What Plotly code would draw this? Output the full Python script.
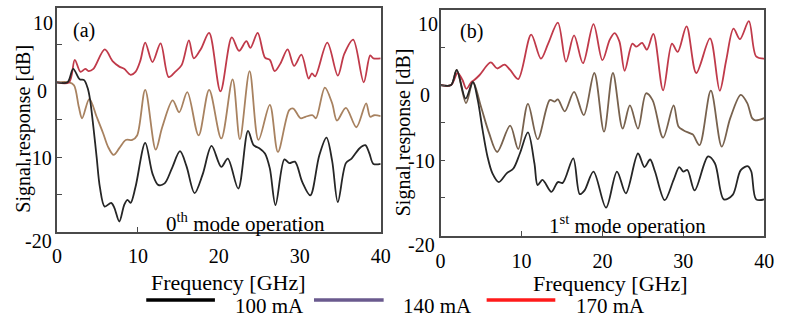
import plotly.graph_objects as go

# ---------------- data ----------------
# panel (a): 0th mode operation
fa_100 = [0, 1.3, 2.0, 2.8, 3.35, 3.8, 4.1, 4.5, 4.9, 5.3, 5.9, 6.7, 7.1, 7.7, 8.3, 8.7, 9.1, 9.7,
          10.9, 11.8, 12.5, 13.3, 14.2, 15.2, 16.0, 17.0, 18.0, 19.1, 20.3, 21.1, 22.4, 23.6, 24.3,
          25.0, 25.7, 26.3, 27.0, 28.1, 28.7, 29.4, 30.3, 31.3, 32.4, 33.3, 34.0, 34.7, 35.7, 36.4,
          37.4, 38.1, 38.6, 39.1, 40]
da_100 = [0, 0, 1.8, 0.4, 0.3, -0.8, -2.4, -6.0, -10.0, -14.0, -16.6, -16.1, -16.8, -18.6, -16.4, -15.7, -16.1, -14.0,
          -8.1, -12.2, -13.7, -13.5, -11.5, -9.2, -11.2, -14.8, -12.3, -8.5, -11.3, -10.2, -14.2, -6.5, -8.4,
          -8.8, -9.5, -11.5, -16.4, -10.3, -10.8, -10.6, -13.3, -15.1, -9.8, -7.4, -10.5, -16.0, -10.8, -10.2,
          -8.8, -8.4, -9.5, -10.9, -10.9]

fa_140 = [0, 1.5, 2.1, 2.7, 3.1, 4.0, 4.9, 5.7, 6.3, 7.0, 7.7, 8.5, 9.3, 9.9, 10.9, 12.2, 13.0, 14.3,
          15.1, 16.1, 17.5, 18.8, 20.3, 21.7, 22.6, 23.8, 24.9, 26.3, 27.3, 28.7, 29.2, 30.1, 30.7,
          31.6, 32.0, 33.1, 34.0, 34.6, 35.7, 37.0, 38.2, 38.7, 39.2, 40]
da_140 = [0, 0, -0.4, -3.3, -4.8, -2.2, -4.6, -6.8, -8.6, -9.7, -8.8, -7.7, -7.7, -7.1, -1.0, -9.0, -6.0, -2.4,
          -4.0, -1.3, -7.1, -1.0, -7.5, 0.4, -7.6, 1.5, -7.7, -3.0, -9.3, -3.7, -3.5, -4.8, -4.6,
          -4.4, -4.8, -0.7, -2.8, -5.1, -3.4, -6.0, -2.8, -4.6, -4.4, -4.5]

fa_170 = [0, 1.5, 2.2, 2.9, 3.5, 3.9, 4.5, 5.9, 6.9, 7.7, 8.3, 9.1, 9.7, 10.3, 10.9, 11.8, 12.8, 13.8,
          14.6, 15.4, 16.3, 16.9, 17.8, 18.8, 20.2, 21.6, 22.5, 23.4, 23.9, 24.8, 25.7, 26.3, 26.9,
          27.6, 28.5, 29.3, 30.2, 31.1, 31.5, 31.9, 33.4, 34.7, 35.5, 36.6, 37.9, 38.7, 39.1, 40]
da_170 = [0, 0, 3.0, 1.4, 1.8, 1.5, 1.8, 4.4, 2.8, 2.1, 1.8, 1.0, 1.4, 2.9, 5.3, 2.7, 5.2, 0.7,
          1.4, 2.3, 5.6, 3.2, 4.5, 6.6, -1.2, 6.0, 4.2, 5.5, 4.6, 6.6, 3.3, 3.0, 1.5,
          2.5, 4.4, 2.2, 3.7, 0.5, 1.2, 0.8, 5.3, 0.9, 3.8, 5.7, 0.0, 3.6, 3.2, 3.2]

# panel (b): 1st mode operation
fb_100 = [0, 1.3, 2.0, 3.1, 4.0, 4.6, 5.2, 5.8, 6.4, 7.2, 8.2, 9.0, 9.8, 10.8, 11.6, 12.0, 12.6, 13.7,
          14.5, 15.1, 16.4, 17.2, 17.8, 18.9, 20.45, 21.8, 22.9, 24.4, 25.2, 25.9, 26.5, 27.7, 28.8,
          29.5, 30.0, 30.5, 31.4, 33.05, 33.9, 35.0, 36.1, 37.1, 38.0, 38.4, 39.0, 40]
db_100 = [0, 0, 2.0, -1.8, 0.4, -2.0, -6.0, -9.5, -11.7, -12.9, -11.7, -11.1, -9.1, -6.3, -10.4, -13.3, -12.6, -14.2,
          -12.9, -13.0, -9.75, -14.5, -14.0, -11.5, -16.3, -11.5, -14.4, -9.1, -10.9, -9.9, -11.5, -15.3, -12.6,
          -10.9, -11.5, -11.3, -14.0, -9.5, -10.4, -15.2, -14.6, -11.3, -10.8, -11.5, -15.2, -15.2]

fb_140 = [0, 1.3, 2.0, 3.15, 4.0, 5.0, 6.0, 7.0, 8.6, 9.6, 10.8, 12.0, 13.5, 14.1, 14.5, 15.35, 16.5, 17.7,
          19.0, 20.2, 21.3, 22.5, 23.4, 24.4, 25.4, 26.2, 27.5, 28.8, 29.4, 30.0, 30.8, 31.2, 32.0,
          33.4, 34.75, 35.8, 37.1, 37.9, 38.5, 38.9, 40]
db_140 = [0, 0, 2.0, -2.4, 0.4, -2.9, -6.4, -8.9, -5.4, -8.5, -2.5, -7.2, -2.0, -2.2, -1.9, -3.5, -0.9, -4.0,
          1.6, -6.2, 1.6, -5.8, -2.7, -5.8, -1.1, -2.0, -7.0, -2.7, -5.5, -6.0, -6.4, -6.6, -8.0,
          -0.75, -8.2, -4.4, -1.3, -2.4, -4.4, -4.7, -4.4]

fb_170 = [0, 1.3, 2.1, 2.7, 3.2, 3.8, 4.2, 4.8, 6.2, 7.0, 7.9, 8.6, 9.6, 11.2, 12.4, 13.3, 14.5, 15.5,
          16.5, 17.6, 18.9, 20.0, 20.9, 21.5, 22.1, 22.75, 23.7, 24.2, 24.9, 25.5, 26.3, 27.5, 28.6,
          29.3, 30.4, 31.6, 33.3, 34.5, 35.3, 36.2, 37.0, 38.1, 39.0, 40]
db_170 = [0, 0, 1.6, 0.7, -0.5, 0.4, 0.7, 1.3, 3.0, 2.2, 2.7, 2.0, 0.8, 6.7, 3.5, 5.5, 8.3, 3.1,
          6.6, 2.9, 8.1, 3.3, 6.0, 6.9, 5.8, 1.9, 5.5, 5.1, 5.6, 4.7, 6.8, -0.7, 5.5,
          4.4, 7.8, 1.6, 6.2, -0.75, 3.3, 7.5, 6.1, 8.5, 3.8, 3.5]

x_ticks = [0, 10, 20, 30, 40]
y_ticks = [-20, -15, -10, -5, 0, 5, 10]
y_label_values = [10, 0, -10, -20]
y_label_text = ["10", "0", "-10", "-20"]
legend_names = ["100 mA", "140 mA", "170 mA"]
legend_colors = ["#000000", "#6a5a8e", "#ff1a1a"]

# ---------------- figure ----------------
W, H = 787, 320
FONT = "Liberation Serif"
black_c = "#262626"
brown_a = "#a88260"
brown_b = "#78624e"
red_c = "#c03a4a"

fig = go.Figure()
def add(x, y, color, xa, ya):
    fig.add_trace(go.Scatter(x=x, y=y, mode="lines", xaxis=xa, yaxis=ya, showlegend=False,
                             line=dict(color=color, width=1.8, shape="spline", smoothing=0.9),
                             hoverinfo="skip"))

add(fa_140, da_140, brown_a, "x", "y")
add(fa_170, da_170, red_c, "x", "y")
add(fa_100, da_100, black_c, "x", "y")
add(fb_140, db_140, brown_b, "x2", "y2")
add(fb_170, db_170, red_c, "x2", "y2")
add(fb_100, db_100, black_c, "x2", "y2")

def px_x(p): return p / W
def px_y(p): return 1 - p / H

axis_common = dict(showline=True, mirror=True, linecolor="#4a4a4a", linewidth=1.5,
                   ticks="inside", ticklen=5, tickcolor="#4a4a4a", tickwidth=1.2,
                   showgrid=False, zeroline=False,
                   tickfont=dict(family=FONT, size=20, color="black"))

fig.update_layout(
    width=W, height=H, margin=dict(l=0, r=0, t=0, b=0),
    paper_bgcolor="white", plot_bgcolor="white",
    font=dict(family=FONT, size=20, color="black"),
    xaxis=dict(domain=[px_x(53), px_x(383)], range=[0, 40], tickvals=x_ticks,
               anchor="y", ticklabelstandoff=5, **axis_common),
    yaxis=dict(domain=[px_y(232), px_y(7.5)], range=[-20, 10], tickvals=y_ticks,
               showticklabels=False, anchor="x", **axis_common),
    xaxis2=dict(domain=[px_x(444), px_x(774)], range=[0, 40], tickvals=x_ticks,
                anchor="y2", ticklabelstandoff=7, **axis_common),
    yaxis2=dict(domain=[px_y(235.5), px_y(9.8)], range=[-20, 10], tickvals=y_ticks,
                showticklabels=False, anchor="x2", **axis_common),
)

ann = []
def text(x, y, s, size=20, angle=0, xanchor="center"):
    ann.append(dict(x=px_x(x), y=px_y(y), xref="paper", yref="paper", text=s, showarrow=False,
                    textangle=angle, font=dict(family=FONT, size=size, color="black"),
                    xanchor=xanchor, yanchor="middle"))

# y tick labels (as placed in the reference, slightly below their ticks)
for v, s, xr, yc in zip(y_label_values, y_label_text, [49, 43, 48, 48], [23, 91, 158, 241]):
    text(xr + 2, yc, s, xanchor="right")
for v, s, xr, yc in zip(y_label_values, y_label_text, [441, 433, 438, 438], [24, 95, 161, 245]):
    text(xr + 2, yc, s, xanchor="right")

text(18, 129, "Signal response [dB]", angle=-90)
text(406, 132, "Signal response [dB]", angle=-90)
text(228, 282, "Frequency [GHz]", size=22)
text(617, 283, "Frequency [GHz]", size=22)
text(81, 30, "(a)")
text(476, 31, "(b)")
text(245, 222, "0<sup>th</sup> mode operation", size=21)
text(635, 224, "1<sup>st</sup> mode operation", size=21)

# custom legend
leg_lines = [(144, 214), (315, 386), (491, 561)]
leg_text_x = [270, 441, 617]
shapes = []
for (x0, x1), c, tx, name in zip(leg_lines, legend_colors, leg_text_x, legend_names):
    shapes.append(dict(type="line", xref="paper", yref="paper", x0=px_x(x0), x1=px_x(x1),
                       y0=px_y(300), y1=px_y(300), line=dict(color=c, width=3.5)))
    text(tx, 305.5, name, size=21)

fig.update_layout(annotations=ann, shapes=shapes)
fig.write_html("out.html", config={"displayModeBar": False},
               post_script="document.body.style.margin='0px';")
